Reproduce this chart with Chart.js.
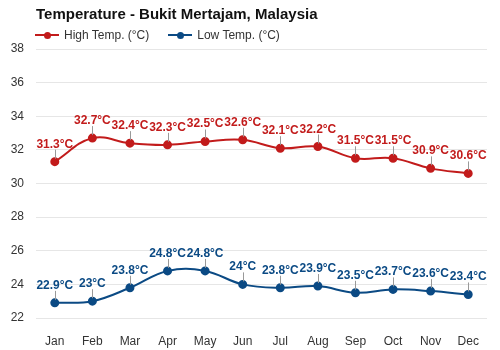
<!DOCTYPE html>
<html>
<head>
<meta charset="utf-8">
<script src="https://cdn.jsdelivr.net/npm/chart.js@4"></script>
<style>
  body { margin: 0; background: #fff; font-family: Arial, "Liberation Sans", sans-serif; }
  #wrap { position: relative; width: 500px; height: 350px; }
  #title { position: absolute; left: 36px; top: 5px; font-size: 15px; font-weight: bold; color: #111; }
  #legend { position: absolute; left: 35px; top: 28px; font-size: 12px; color: #333; display: flex; }
  .item { display: flex; align-items: center; margin-right: 19px; }
  .swatch { position: relative; width: 24px; height: 2px; margin-right: 5px; }
  .swatch::after { content: ""; position: absolute; left: 8.5px; top: -2.5px; width: 7px; height: 7px; border-radius: 50%; background: inherit; }
  canvas { position: absolute; left: 0; top: 0; }
</style>
</head>
<body>
<div id="wrap">
  <canvas id="chart" width="500" height="350"></canvas>
  <div id="title">Temperature - Bukit Mertajam, Malaysia</div>
  <div id="legend">
    <div class="item"><span class="swatch" style="background:#c21b1b"></span>High Temp. (°C)</div>
    <div class="item"><span class="swatch" style="background:#0b4a84"></span>Low Temp. (°C)</div>
  </div>
</div>
<script>
// 월별 기온 데이터
const months = ['Jan', 'Feb', 'Mar', 'Apr', 'May', 'Jun', 'Jul', 'Aug', 'Sep', 'Oct', 'Nov', 'Dec'];
const highTemps = [31.3, 32.7, 32.4, 32.3, 32.5, 32.6, 32.1, 32.2, 31.5, 31.5, 30.9, 30.6];
const lowTemps = [22.9, 23, 23.8, 24.8, 24.8, 24, 23.8, 23.9, 23.5, 23.7, 23.6, 23.4];
const yMin = 22;
const yMax = 38;

const RED = '#c21b1b';
const BLUE = '#0b4a84';
const FONT = 'Arial, "Liberation Sans", sans-serif';

// 점 위에 값 라벨과 짧은 연결선 그리기
const valueLabels = {
    id: 'valueLabels',
    afterDatasetsDraw(chart) {
        const ctx = chart.ctx;
        ctx.save();
        ctx.font = 'bold 12px ' + FONT;
        ctx.textAlign = 'center';
        ctx.textBaseline = 'alphabetic';
        chart.data.datasets.forEach((ds, i) => {
            const meta = chart.getDatasetMeta(i);
            meta.data.forEach((pt, j) => {
                ctx.strokeStyle = '#999';
                ctx.lineWidth = 1;
                ctx.beginPath();
                ctx.moveTo(Math.round(pt.x) + 0.5, pt.y - 3);
                ctx.lineTo(Math.round(pt.x) + 0.5, pt.y - 12);
                ctx.stroke();
                ctx.fillStyle = ds.borderColor;
                ctx.fillText(ds.data[j] + '°C', pt.x, pt.y - 14);
            });
        });
        ctx.restore();
    }
};

new Chart(document.getElementById('chart'), {
    type: 'line',
    data: {
        labels: months,
        datasets: [
            {
                label: 'High Temp. (°C)',
                data: highTemps,
                borderColor: RED,
                backgroundColor: RED,
                borderWidth: 2,
                pointRadius: 3.5,
                tension: 0.4
            },
            {
                label: 'Low Temp. (°C)',
                data: lowTemps,
                borderColor: BLUE,
                backgroundColor: BLUE,
                borderWidth: 2,
                pointRadius: 3.5,
                tension: 0.4
            }
        ]
    },
    options: {
        responsive: false,
        animation: false,
        layout: { padding: { top: 49, right: 13, bottom: 0, left: 0 } },
        plugins: {
            legend: { display: false },
            tooltip: { enabled: false }
        },
        scales: {
            x: {
                offset: true,
                grid: { display: false },
                border: { display: false },
                ticks: { color: '#333', font: { size: 12, family: FONT }, padding: 8 },
                afterFit(scale) { scale.height = 32; }
            },
            y: {
                min: yMin,
                max: yMax,
                grid: { color: '#e6e6e6', drawTicks: false },
                border: { display: false },
                ticks: {
                    stepSize: 1,
                    color: '#333',
                    padding: 12,
                    font: { size: 12, family: FONT },
                    callback: v => (v % 2 === 0 ? v : '')
                },
                afterFit(scale) { scale.width = 36; }
            }
        }
    },
    plugins: [valueLabels]
});
</script>
</body>
</html>
